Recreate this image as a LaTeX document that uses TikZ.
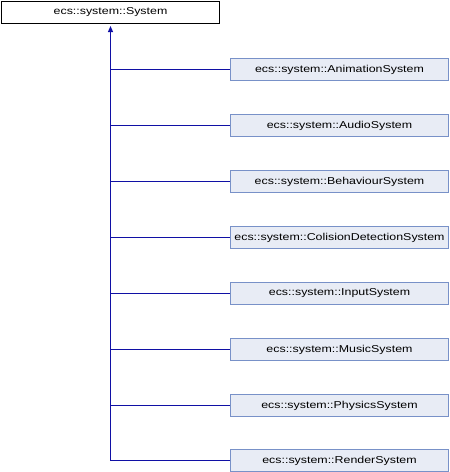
\documentclass[tikz,border=0pt]{standalone}
\usepackage{fontspec}
\setmainfont{Liberation Sans}
\newfontfamily\dxfont[FakeStretch=1.24]{Liberation Sans}
\usetikzlibrary{arrows.meta}

\definecolor{edgeblue}{RGB}{16,16,165}
\definecolor{childfill}{RGB}{232,236,245}
\definecolor{childline}{RGB}{120,145,200}

\begin{document}
\begin{tikzpicture}[
        x=1pt, y=1pt,
        base/.style={draw, fill=white, line width=1pt, minimum width=218pt, minimum height=22pt, inner sep=0pt, font=\dxfont\fontsize{10}{12}\selectfont},
        child/.style={draw=childline, fill=childfill, line width=1pt, minimum width=218pt, minimum height=22pt, inner sep=0pt, font=\dxfont\fontsize{10}{12}\selectfont},
        inh/.style={color=edgeblue, line width=1.2pt},
        arr/.style={-{Triangle[width=5pt,length=6pt]}, color=edgeblue, line width=1.2pt, shorten >=2pt}
      ]
      \useasboundingbox (0,0) rectangle (450,-472);

      % Base class
      \node[base] (sys) at (110.5,-12.5) {ecs::system::System};

      % Derived classes
      \node[child] (anim) at (339.5,-69.5) {ecs::system::AnimationSystem};
      \node[child] (audio) at (339.5,-125.5) {ecs::system::AudioSystem};
      \node[child] (behav) at (339.5,-181.5) {ecs::system::BehaviourSystem};
      \node[child] (colis) at (339.5,-237.5) {ecs::system::ColisionDetectionSystem};
      \node[child] (input) at (339.5,-293.5) {ecs::system::InputSystem};
      \node[child] (music) at (339.5,-349.5) {ecs::system::MusicSystem};
      \node[child] (phys) at (339.5,-405.5) {ecs::system::PhysicsSystem};
      \node[child] (render) at (339.5,-460.5) {ecs::system::RenderSystem};

      % Trunk and branches
      \coordinate (trunkEnd) at (render.west -| sys.south);
      \draw[inh] (anim.west) -- (anim.west -| sys.south)
                 (audio.west) -- (audio.west -| sys.south)
                 (behav.west) -- (behav.west -| sys.south)
                 (colis.west) -- (colis.west -| sys.south)
                 (input.west) -- (input.west -| sys.south)
                 (music.west) -- (music.west -| sys.south)
                 (phys.west) -- (phys.west -| sys.south)
                 (render.west) -- (trunkEnd);
      \draw[arr] (trunkEnd) -- (sys.south);

\end{tikzpicture}
\end{document}
